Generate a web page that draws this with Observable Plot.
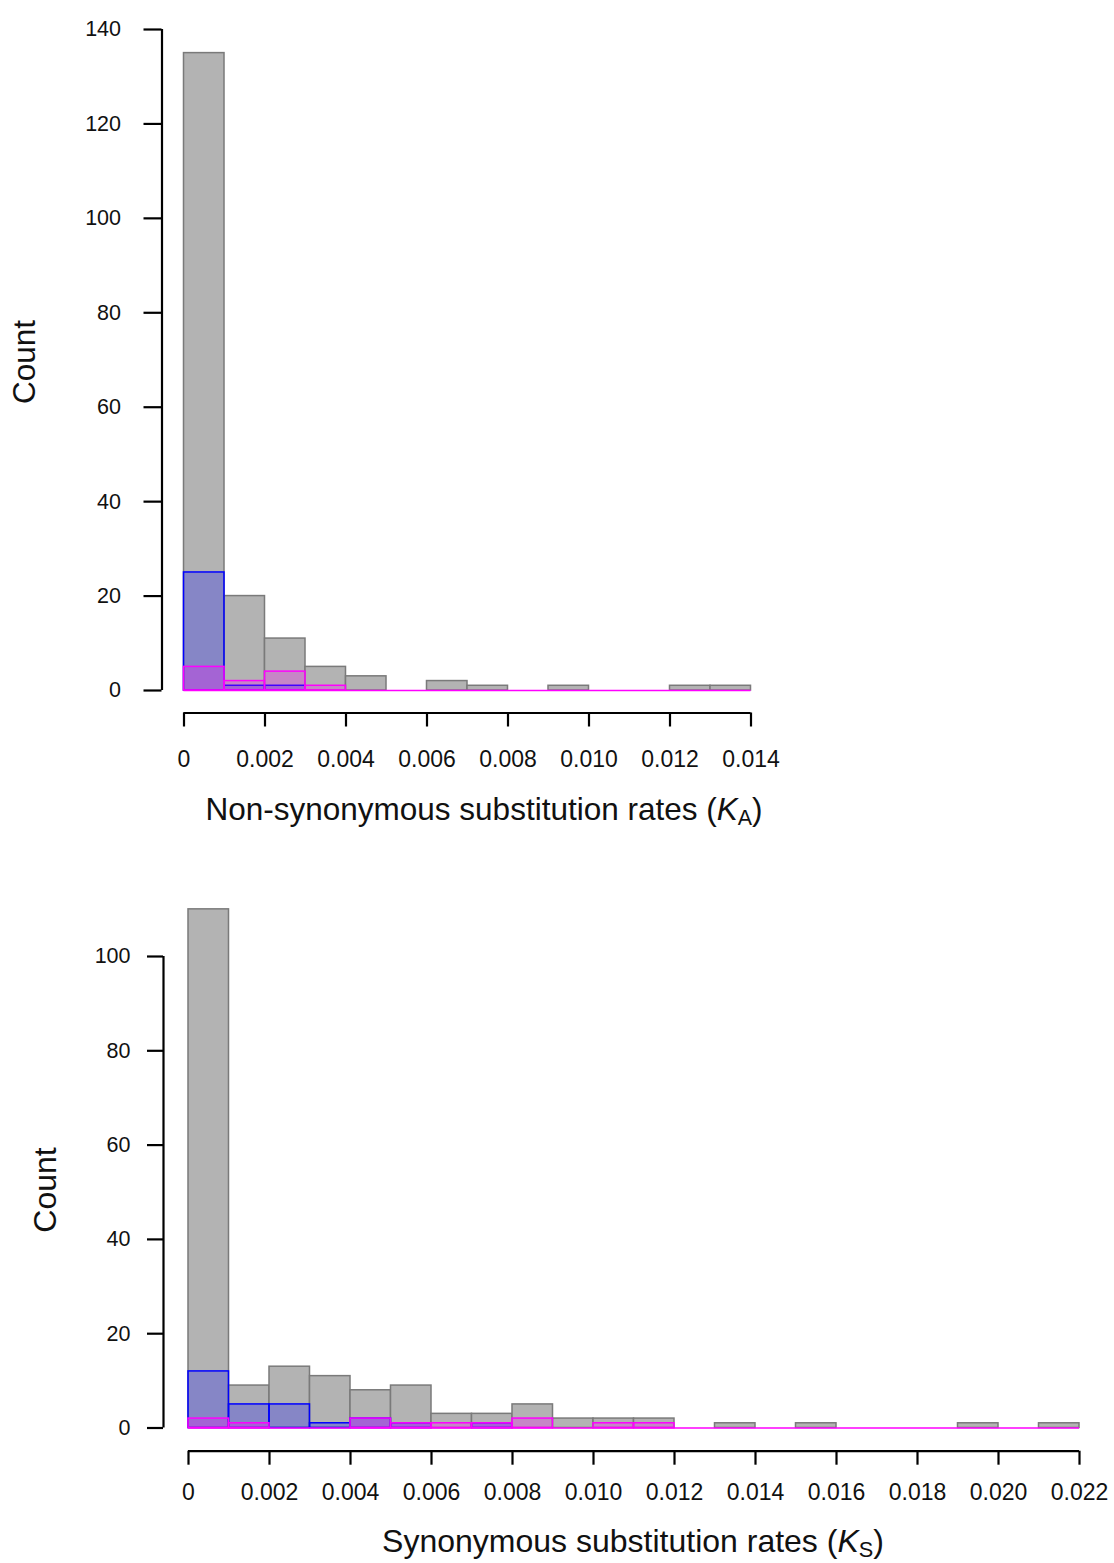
<!DOCTYPE html>
<html><head><meta charset="utf-8">
<script src="https://cdn.jsdelivr.net/npm/d3@7"></script>
<script src="https://cdn.jsdelivr.net/npm/@observablehq/plot@0.6"></script>
<style>
body{margin:0;background:#fff;}
#wrap{position:relative;width:1114px;height:1563px;overflow:hidden;}
.panel{position:absolute;left:0;}
</style></head><body><div id="wrap"></div>
<script>
// ---- Data: non-synonymous (KA) histogram ----
const kaEdges = [0, 0.001, 0.002, 0.003, 0.004, 0.005, 0.006, 0.007, 0.008, 0.009, 0.010, 0.011, 0.012, 0.013, 0.014];
const kaAll     = [135, 20, 11, 5, 3, 0, 2, 1, 0, 1, 0, 0, 1, 1];
const kaBlue    = [25, 1, 1, 0, 0, 0, 0, 0, 0, 0, 0, 0, 0, 0];
const kaMagenta = [5, 2, 4, 1, 0, 0, 0, 0, 0, 0, 0, 0, 0, 0];
const kaXTicks  = [0, 0.002, 0.004, 0.006, 0.008, 0.010, 0.012, 0.014];
const kaXLabels = ["0", "0.002", "0.004", "0.006", "0.008", "0.010", "0.012", "0.014"];
const kaYTicks  = [0, 20, 40, 60, 80, 100, 120, 140];

// ---- Data: synonymous (KS) histogram ----
const ksEdges = [0, 0.001, 0.002, 0.003, 0.004, 0.005, 0.006, 0.007, 0.008, 0.009, 0.010, 0.011, 0.012, 0.013, 0.014, 0.015, 0.016, 0.017, 0.018, 0.019, 0.020, 0.021, 0.022];
const ksAll     = [110, 9, 13, 11, 8, 9, 3, 3, 5, 2, 2, 2, 0, 1, 0, 1, 0, 0, 0, 1, 0, 1];
const ksBlue    = [12, 5, 5, 1, 2, 1, 0, 1, 0, 0, 0, 0, 0, 0, 0, 0, 0, 0, 0, 0, 0, 0];
const ksMagenta = [2, 1, 0, 0, 2, 1, 1, 1, 2, 0, 1, 1, 0, 0, 0, 0, 0, 0, 0, 0, 0, 0];
const ksXTicks  = [0, 0.002, 0.004, 0.006, 0.008, 0.010, 0.012, 0.014, 0.016, 0.018, 0.020, 0.022];
const ksXLabels = ["0", "0.002", "0.004", "0.006", "0.008", "0.010", "0.012", "0.014", "0.016", "0.018", "0.020", "0.022"];
const ksYTicks  = [0, 20, 40, 60, 80, 100];

const FONT = '"Liberation Sans", Arial, Helvetica, sans-serif';

function toBins(edges, all, blue, mag) {
  return all.map((v, i) => ({x1: edges[i], x2: edges[i + 1], all: v, blue: blue[i], mag: mag[i]}));
}

function panel(cfg) {
  const bins = toBins(cfg.edges, cfg.all, cfg.blue, cfg.mag);
  const xmin = cfg.edges[0], xmax = cfg.edges[cfg.edges.length - 1];
  const ymax = cfg.yTicks[cfg.yTicks.length - 1];
  const chart = Plot.plot({
    width: 1114,
    height: cfg.height,
    marginLeft: cfg.yAxisX,
    marginRight: 0,
    marginTop: 0,
    marginBottom: cfg.height - cfg.xAxisY,
    style: {fontFamily: FONT, fontSize: "21px", color: "#111", background: "transparent"},
    x: {domain: [xmin, xmax], range: [cfg.x0, cfg.x1], label: null},
    y: {domain: [0, ymax], range: [cfg.y0, cfg.yTop], label: null},
    marks: [
      Plot.rectY(bins.filter(d => d.all > 0), {x1: "x1", x2: "x2", y: "all", fill: "#b3b3b3", stroke: "#7a7a7a", strokeWidth: 1.5, inset: 0}),
      Plot.rectY(bins.filter(d => d.blue > 0), {x1: "x1", x2: "x2", y: "blue", fill: "#0000ff", fillOpacity: 0.25, stroke: "#0000ff", strokeWidth: 1.5, inset: 0}),
      Plot.rectY(bins.filter(d => d.mag > 0), {x1: "x1", x2: "x2", y: "mag", fill: "#ff00ff", fillOpacity: 0.25, stroke: "#ff00ff", strokeWidth: 1.5, inset: 0}),
      Plot.ruleY([0], {x1: xmin, x2: xmax, stroke: "#ff00ff", strokeWidth: 1.5}),
      // axis lines (R-style, offset from the plot region)
      Plot.ruleX([xmin], {y1: 0, y2: ymax, dx: cfg.yAxisX - cfg.x0, stroke: "#000", strokeWidth: 2.2}),
      Plot.ruleY([0], {x1: xmin, x2: xmax, dy: cfg.xAxisY - cfg.y0, stroke: "#000", strokeWidth: 2.2}),
      Plot.axisX(cfg.xTicks, {anchor: "bottom", tickSize: cfg.xTickSize, tickPadding: cfg.xTickPad, strokeWidth: 2.2, stroke: "#000", fill: "#111",
        fontSize: cfg.xFont, tickFormat: d => cfg.xLabels[cfg.xTicks.indexOf(d)], label: null}),
      Plot.axisY(cfg.yTicks, {anchor: "left", tickSize: cfg.yTickSize, tickPadding: cfg.yTickPad, strokeWidth: 2.2, stroke: "#000", fill: "#111",
        fontSize: cfg.yFont, tickFormat: d => String(d), label: null})
    ]
  });
  chart.classList.add("panel");
  chart.style.top = cfg.top + "px";
  const svg = d3.select(chart);
  // x title with italic K and subscript
  const t = svg.append("text")
    .attr("x", cfg.titleX).attr("y", cfg.titleY)
    .attr("text-anchor", "middle")
    .attr("font-family", FONT).attr("font-size", cfg.titleSize).attr("fill", "#111");
  t.append("tspan").text(cfg.titleText + " (");
  t.append("tspan").attr("font-style", "italic").text("K");
  t.append("tspan").attr("font-size", cfg.titleSize * 0.68).attr("dy", 5).text(cfg.sub);
  t.append("tspan").attr("dy", -5).text(")");
  // y title
  svg.append("text")
    .attr("transform", `translate(${cfg.countX},${cfg.countY}) rotate(-90)`)
    .attr("text-anchor", "middle").attr("dominant-baseline", "central")
    .attr("font-family", FONT).attr("font-size", cfg.titleSize).attr("fill", "#111")
    .text("Count");
  document.getElementById("wrap").appendChild(chart);
}

panel({
  top: 0, height: 850, titleSize: 31.5, xFont: 23, yFont: 21.5,
  edges: kaEdges, all: kaAll, blue: kaBlue, mag: kaMagenta,
  xTicks: kaXTicks, xLabels: kaXLabels, yTicks: kaYTicks,
  x0: 183.5, x1: 750.5, y0: 690, yTop: 29,
  yAxisX: 161.5, xAxisY: 712.5,
  xTickSize: 14, xTickPad: 24, yTickSize: 18, yTickPad: 23,
  titleText: "Non-synonymous substitution rates", sub: "A", titleX: 484, titleY: 820,
  countX: 24, countY: 362
});

panel({
  top: 850, height: 713, titleSize: 32, xFont: 23, yFont: 21.5,
  edges: ksEdges, all: ksAll, blue: ksBlue, mag: ksMagenta,
  xTicks: ksXTicks, xLabels: ksXLabels, yTicks: ksYTicks,
  x0: 188, x1: 1079, y0: 577.5, yTop: 106,
  yAxisX: 163, xAxisY: 600.7,
  xTickSize: 14, xTickPad: 18, yTickSize: 16, yTickPad: 17,
  titleText: "Synonymous substitution rates", sub: "S", titleX: 633, titleY: 702,
  countX: 45, countY: 340
});
</script>
</body></html>
